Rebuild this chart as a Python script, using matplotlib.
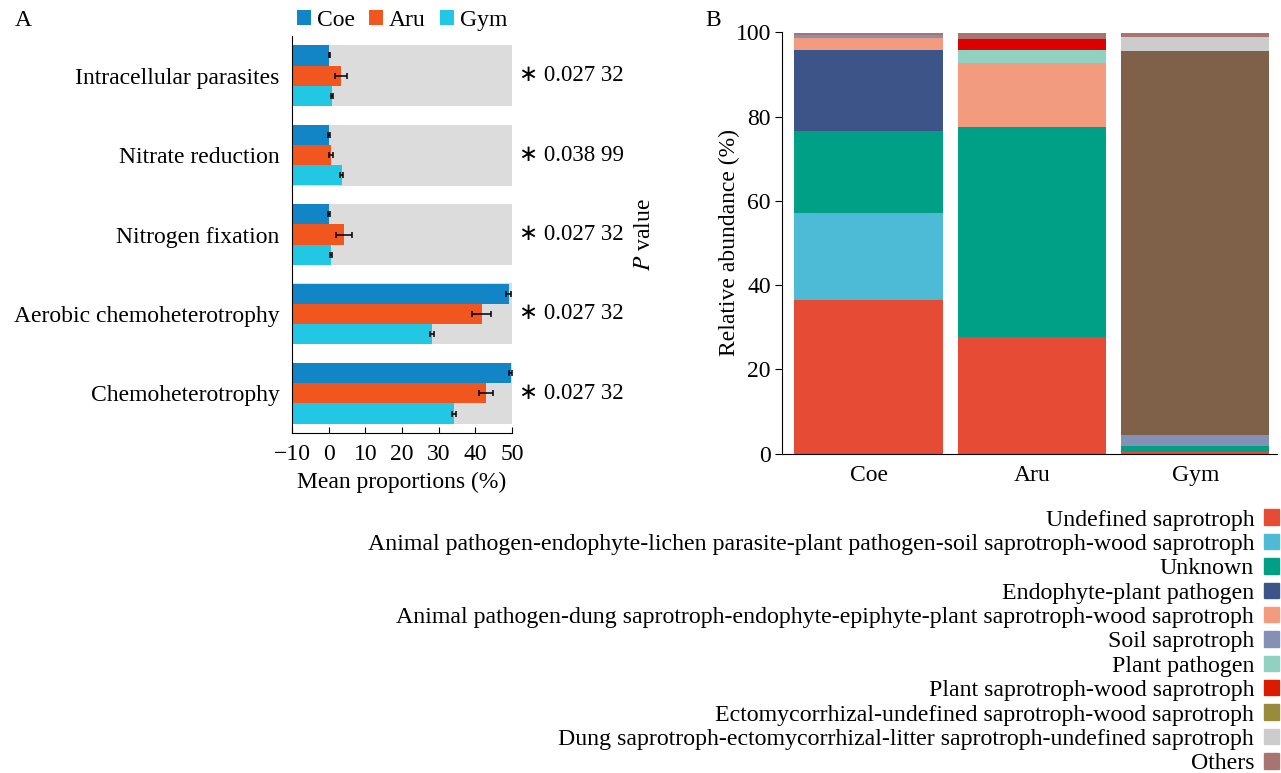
import matplotlib
matplotlib.use("Agg")
import matplotlib.pyplot as plt
from matplotlib.patches import Patch
import numpy as np

plt.rcParams["font.family"] = ["Liberation Serif", "DejaVu Sans"]
plt.rcParams["mathtext.fontset"] = "stix"

# === Panel A: functional groups (mean proportions, %) ===
functions = ["Intracellular parasites", "Nitrate reduction", "Nitrogen fixation",
             "Aerobic chemoheterotrophy", "Chemoheterotrophy"]
groups = ["Coe", "Aru", "Gym"]
coe_mean = [0.2, 0.1, 0.1, 49.1, 49.6]
aru_mean = [3.3, 0.6, 4.2, 41.7, 43.0]
gym_mean = [0.8, 3.5, 0.7, 28.1, 34.2]
coe_err = [0.2, 0.2, 0.2, 0.7, 0.5]
aru_err = [1.7, 0.6, 2.2, 2.6, 1.9]
gym_err = [0.3, 0.4, 0.3, 0.6, 0.6]
p_values = ["0.027 32", "0.038 99", "0.027 32", "0.027 32", "0.027 32"]

# === Panel B: relative abundance of fungal guilds (%) ===
samples = ["Coe", "Aru", "Gym"]
guilds = ["Undefined saprotroph",
          "Animal pathogen-endophyte-lichen parasite-plant pathogen-soil saprotroph-wood saprotroph",
          "Unknown",
          "Endophyte-plant pathogen",
          "Animal pathogen-dung saprotroph-endophyte-epiphyte-plant saprotroph-wood saprotroph",
          "Soil saprotroph",
          "Plant pathogen",
          "Plant saprotroph-wood saprotroph",
          "Ectomycorrhizal-undefined saprotroph-wood saprotroph",
          "Dung saprotroph-ectomycorrhizal-litter saprotroph-undefined saprotroph",
          "Others"]
abundance = [
    [36.4, 27.6, 0.4],   # Undefined saprotroph
    [20.8, 0.0, 0.0],    # Animal pathogen-endophyte-...
    [19.3, 49.9, 1.5],   # Unknown
    [19.4, 0.0, 0.0],    # Endophyte-plant pathogen
    [2.7, 15.2, 0.0],    # Animal pathogen-dung ...
    [0.7, 0.0, 2.5],     # Soil saprotroph
    [0.0, 3.2, 0.0],     # Plant pathogen
    [0.0, 2.6, 0.0],     # Plant saprotroph-wood saprotroph
    [0.0, 0.0, 91.3],    # Ectomycorrhizal-...
    [0.0, 0.0, 3.2],     # Dung saprotroph-ectomycorrhizal-...
    [0.7, 1.5, 1.1],     # Others
]
bar_colors = ["#E64B35", "#4DBBD5", "#00A087", "#3C5488", "#F39B7F", "#8491B4",
              "#91D1C2", "#DC0000", "#7E6148", "#CCCCCC", "#A87472"]
legend_colors = ["#E64B35", "#4DBBD5", "#00A087", "#3C5488", "#F39B7F", "#8491B4",
                 "#91D1C2", "#DC1A00", "#9A8A3C", "#CCCCCC", "#A87472"]

W, H = 1281, 773
fig = plt.figure(figsize=(W / 100, H / 100), dpi=100)
FS = 17

# === Panel A ===
axA = fig.add_axes([292 / W, 1 - 433 / H, 220 / W, 397 / H])
XMIN, XMAX = -10, 50
y = np.arange(len(functions))
bh = 0.255
for yi in y:
    axA.axhspan(yi - 0.383, yi + 0.383, color="#DCDCDC", zorder=0, lw=0)
colsA = ["#1185C6", "#F0561E", "#22C7E3"]
means = [coe_mean, aru_mean, gym_mean]
errs = [coe_err, aru_err, gym_err]
for k in range(3):
    m = np.array(means[k])
    # bars are drawn from the left edge of the axis (-10)
    axA.barh(y + (k - 1) * bh, m - XMIN, left=XMIN, height=bh, color=colsA[k],
             label=groups[k], zorder=2)
    axA.errorbar(m, y + (k - 1) * bh, xerr=errs[k], fmt="none", ecolor="black",
                 elinewidth=1.1, capsize=2, capthick=1.1, zorder=3)
axA.set_xlim(XMIN, XMAX)
axA.set_ylim(4.5, -0.5)
axA.set_yticks(y)
axA.set_yticklabels(functions, fontsize=FS)
axA.tick_params(axis="y", length=0, pad=9)
axA.set_xticks([-10, 0, 10, 20, 30, 40, 50])
axA.set_xticklabels(["\u221210", "0", "10", "20", "30", "40", "50"], fontsize=FS)
axA.tick_params(axis="x", direction="in", length=4, pad=8)
axA.set_xlabel("Mean proportions (%)", fontsize=FS, labelpad=5)
for s in ["top", "right"]:
    axA.spines[s].set_visible(False)
for yi, p in zip(y, p_values):
    axA.text(1.03, yi, "\u2217 " + p, transform=axA.get_yaxis_transform(),
             va="center", ha="left", fontsize=16.5)
axA.text(1.6, 0.5, "$P$ value", transform=axA.transAxes, rotation=90,
         va="center", ha="center", fontsize=FS)
axA.legend(loc="lower center", bbox_to_anchor=(0.5, 1.0), ncol=3, frameon=False,
           fontsize=FS, handlelength=0.6, handleheight=0.6, handletextpad=0.25,
           columnspacing=0.6, borderaxespad=0.1, borderpad=0.1)

# === Panel B ===
axB = fig.add_axes([782 / W, 1 - 453.5 / H, 495 / W, 421 / H])
x = np.arange(len(samples))
bottom = np.zeros(len(samples))
for vals, c in zip(abundance, bar_colors):
    axB.bar(x, vals, bottom=bottom, width=0.907, color=c, lw=0)
    bottom += np.array(vals)
axB.set_xlim(-0.53, 2.5)
axB.set_ylim(0, 100)
axB.set_xticks(x)
axB.set_xticklabels(samples, fontsize=FS)
axB.tick_params(axis="x", length=0, pad=8)
axB.set_yticks([0, 20, 40, 60, 80, 100])
axB.tick_params(axis="y", labelsize=FS, direction="out", length=5, pad=3)
axB.set_ylabel("Relative abundance (%)", fontsize=FS, labelpad=-3)
for s in ["top", "right"]:
    axB.spines[s].set_visible(False)

handles = [Patch(color=c) for c in legend_colors]
fig.legend(handles, guilds, loc="upper right", bbox_to_anchor=(1.0, 1 - 507 / H),
           frameon=False, fontsize=17.2, markerfirst=False, labelspacing=0.135,
           handlelength=0.62, handleheight=0.62, handletextpad=0.4,
           borderaxespad=0.1, borderpad=0.0)

fig.text(15 / W, 1 - 20 / H, "A", fontsize=FS, va="center", ha="left")
fig.text(705 / W, 1 - 20 / H, "B", fontsize=FS, va="center", ha="left")

fig.savefig("out.png", dpi=100)
